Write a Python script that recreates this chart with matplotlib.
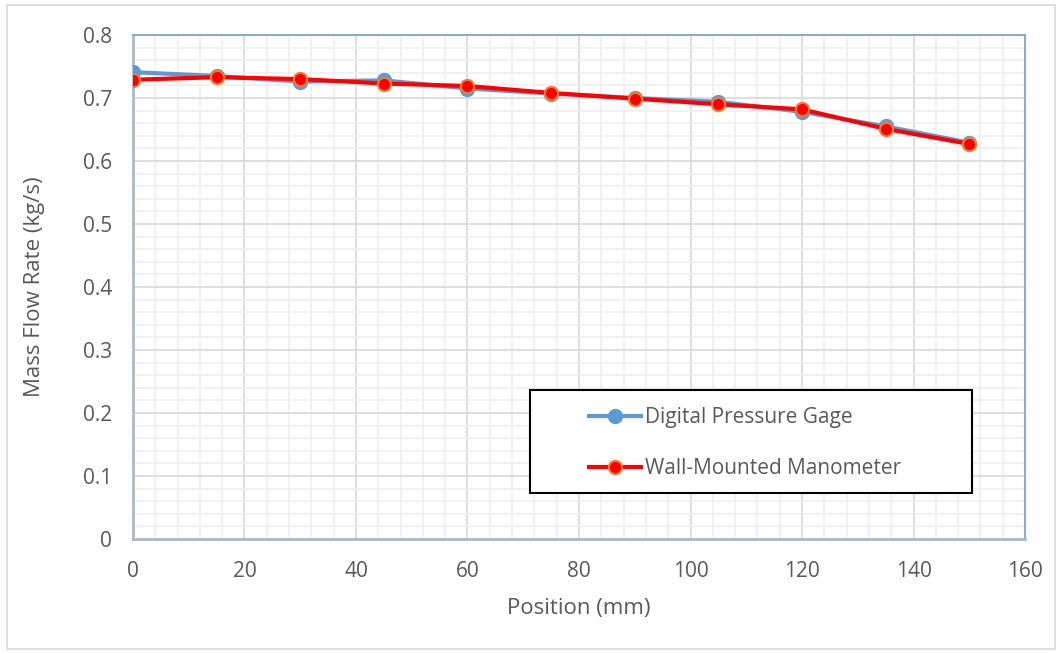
import matplotlib.pyplot as plt
from matplotlib.patches import Rectangle
from matplotlib.ticker import MultipleLocator

# Data
position = [0, 15, 30, 45, 60, 75, 90, 105, 120, 135, 150]
digital_gage = [0.741, 0.735, 0.726, 0.728, 0.715, 0.707, 0.700, 0.694, 0.678, 0.655, 0.629]
wall_manometer = [0.729, 0.733, 0.730, 0.723, 0.719, 0.708, 0.699, 0.690, 0.682, 0.651, 0.627]

plt.rcParams['font.family'] = ['Open Sans', 'DejaVu Sans']
text_color = "#595959"

fig = plt.figure(figsize=(10.62, 6.53), dpi=100)
ax = fig.add_axes([0.1252, 0.1746, 0.840, 0.7718])

# outer chart border
fig.patches.append(Rectangle((0.0066, 0.006), 0.987, 0.986, transform=fig.transFigure,
                             fill=False, edgecolor="#d9d9d9", linewidth=1.2))

ax.plot(position, digital_gage, color="#5b9bd5", linewidth=3, marker="o",
        markersize=10, markerfacecolor="#5b9bd5", markeredgecolor="#5b9bd5",
        label="Digital Pressure Gage", zorder=3)
ax.plot(position, wall_manometer, color="#ff0000", linewidth=3, marker="o",
        markersize=9.5, markerfacecolor="#ff0000", markeredgecolor="#ed7d31",
        markeredgewidth=1.5, label="Wall-Mounted Manometer", zorder=4)

ax.set_xlim(0, 160)
ax.set_ylim(0, 0.8)
ax.xaxis.set_major_locator(MultipleLocator(20))
ax.xaxis.set_minor_locator(MultipleLocator(4))
ax.yaxis.set_major_locator(MultipleLocator(0.1))
ax.yaxis.set_minor_locator(MultipleLocator(0.02))
ax.set_yticks([0, 0.1, 0.2, 0.3, 0.4, 0.5, 0.6, 0.7, 0.8])
ax.set_yticklabels(["0", "0.1", "0.2", "0.3", "0.4", "0.5", "0.6", "0.7", "0.8"])

ax.grid(which="major", color="#d9d9d9", linewidth=1.2, zorder=0)
ax.grid(which="minor", color="#efefef", linewidth=1.2, zorder=0)
ax.set_axisbelow(True)

ax.tick_params(which="both", length=0, labelsize=15, labelcolor=text_color)
ax.tick_params(axis="x", pad=16)
ax.tick_params(axis="y", pad=15)
ax.spines["left"].set_color("#adb9ca")
ax.spines["bottom"].set_color("#adb9ca")
ax.spines["left"].set_linewidth(2)
ax.spines["bottom"].set_linewidth(2)
ax.spines["top"].set_color("#7aa7db")
ax.spines["right"].set_color("#7aa7db")
ax.spines["top"].set_linewidth(1.3)
ax.spines["right"].set_linewidth(1.3)

ax.set_xlabel("Position (mm)", fontsize=16, color=text_color)
ax.set_ylabel("Mass Flow Rate (kg/s)", fontsize=16, color=text_color)
ax.xaxis.set_label_coords(0.5, -0.118)
ax.yaxis.set_label_coords(-0.099, 0.5)

# legend box drawn separately, entries placed inside
ax.add_patch(Rectangle((0.445, 0.091), 0.496, 0.205, transform=ax.transAxes,
                       facecolor="white", edgecolor="black", linewidth=1.5, zorder=5))
leg = ax.legend(loc="upper left", bbox_to_anchor=(0.511, 0.262), fontsize=15,
                frameon=False, borderpad=0, borderaxespad=0, labelspacing=1.45,
                handlelength=2.5, handletextpad=0.2)
leg.set_zorder(6)
for t in leg.get_texts():
    t.set_color(text_color)

fig.savefig("out.png", dpi=100)
